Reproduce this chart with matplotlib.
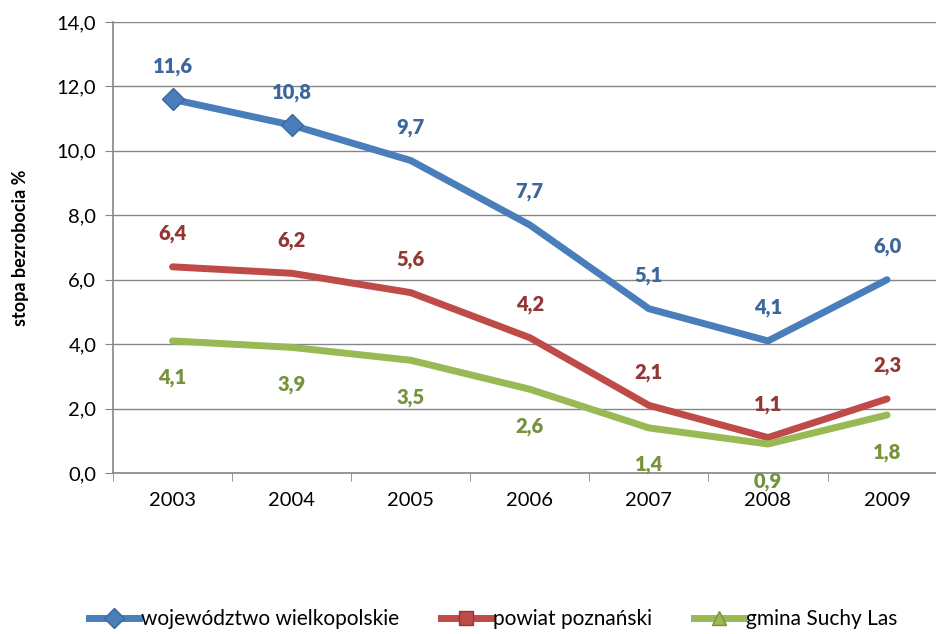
import matplotlib.pyplot as plt
from matplotlib.lines import Line2D

years = ["2003", "2004", "2005", "2006", "2007", "2008", "2009"]
wojewodztwo = [11.6, 10.8, 9.7, 7.7, 5.1, 4.1, 6.0]
powiat = [6.4, 6.2, 5.6, 4.2, 2.1, 1.1, 2.3]
gmina = [4.1, 3.9, 3.5, 2.6, 1.4, 0.9, 1.8]
names = ["województwo wielkopolskie", "powiat poznański", "gmina Suchy Las"]

plt.rcParams['font.family'] = ['Lato', 'DejaVu Sans']

line_cols = ['#4A7EBB', '#BE4B48', '#98B954']
lab_cols = ['#3B679C', '#943634', '#76923C']

fig = plt.figure(figsize=(9.36, 6.34), dpi=100)
ax_w = (946.6 - 113) / 936
ax = fig.add_axes([113 / 936, (634 - 473) / 634, ax_w, (473 - 22) / 634])

x = list(range(len(years)))
series = [wojewodztwo, powiat, gmina]
offsets = [33, 33, -37]
markers = ['D', 's', '^']
for i, vals in enumerate(series):
    ax.plot(x, vals, color=line_cols[i], lw=5, solid_capstyle='round', zorder=3)
    for xi, v in zip(x, vals):
        ax.annotate(f"{v:.1f}".replace('.', ','), (xi, v), xytext=(0, offsets[i] * 0.72),
                    textcoords='offset points', ha='center', va='center',
                    color=lab_cols[i], fontsize=14.5, fontweight='heavy', zorder=4)

# only first two points of the top series have markers
ax.plot(x[:2], wojewodztwo[:2], ls='none', marker='D', ms=11, color=line_cols[0],
        mec='#3B679C', zorder=4)

ax.set_xlim(-0.5, len(years) - 0.5)
ax.set_ylim(0, 14)
ax.set_yticks([0, 2, 4, 6, 8, 10, 12, 14])
ax.set_yticklabels([f"{t:.1f}".replace('.', ',') for t in ax.get_yticks()])
ax.set_xticks(x)
ax.set_xticklabels(years)
ax.set_xticks([i - 0.5 for i in range(len(years) + 1)], minor=True)
ax.tick_params(axis='x', which='major', length=0, pad=14, labelsize=14.5)
ax.tick_params(axis='x', which='minor', length=6, color='#868686', direction='out')
ax.tick_params(axis='y', length=6, color='#868686', labelsize=14.5, pad=6)
ax.grid(axis='y', color='#868686', lw=1)
ax.set_axisbelow(True)
for s in ['top', 'right']:
    ax.spines[s].set_visible(False)
for s in ['left', 'bottom']:
    ax.spines[s].set_color('#868686')
    ax.spines[s].set_linewidth(1.2)
ax.set_ylabel("stopa bezrobocia %", fontsize=13, fontweight='bold')
ax.yaxis.set_label_coords(-(113 - 29) / (ax_w * 936), 0.5)

handles = [Line2D([0], [0], color=line_cols[i], lw=5, marker=markers[i], ms=10,
                  mec=lab_cols[i]) for i in range(3)]
fig.legend(handles, names, loc='lower center', bbox_to_anchor=(0.527, -0.022), ncol=3,
           frameon=False, fontsize=15, handlelength=2.4, handletextpad=0.1,
           columnspacing=2.0)

fig.savefig('out.png', dpi=100)
